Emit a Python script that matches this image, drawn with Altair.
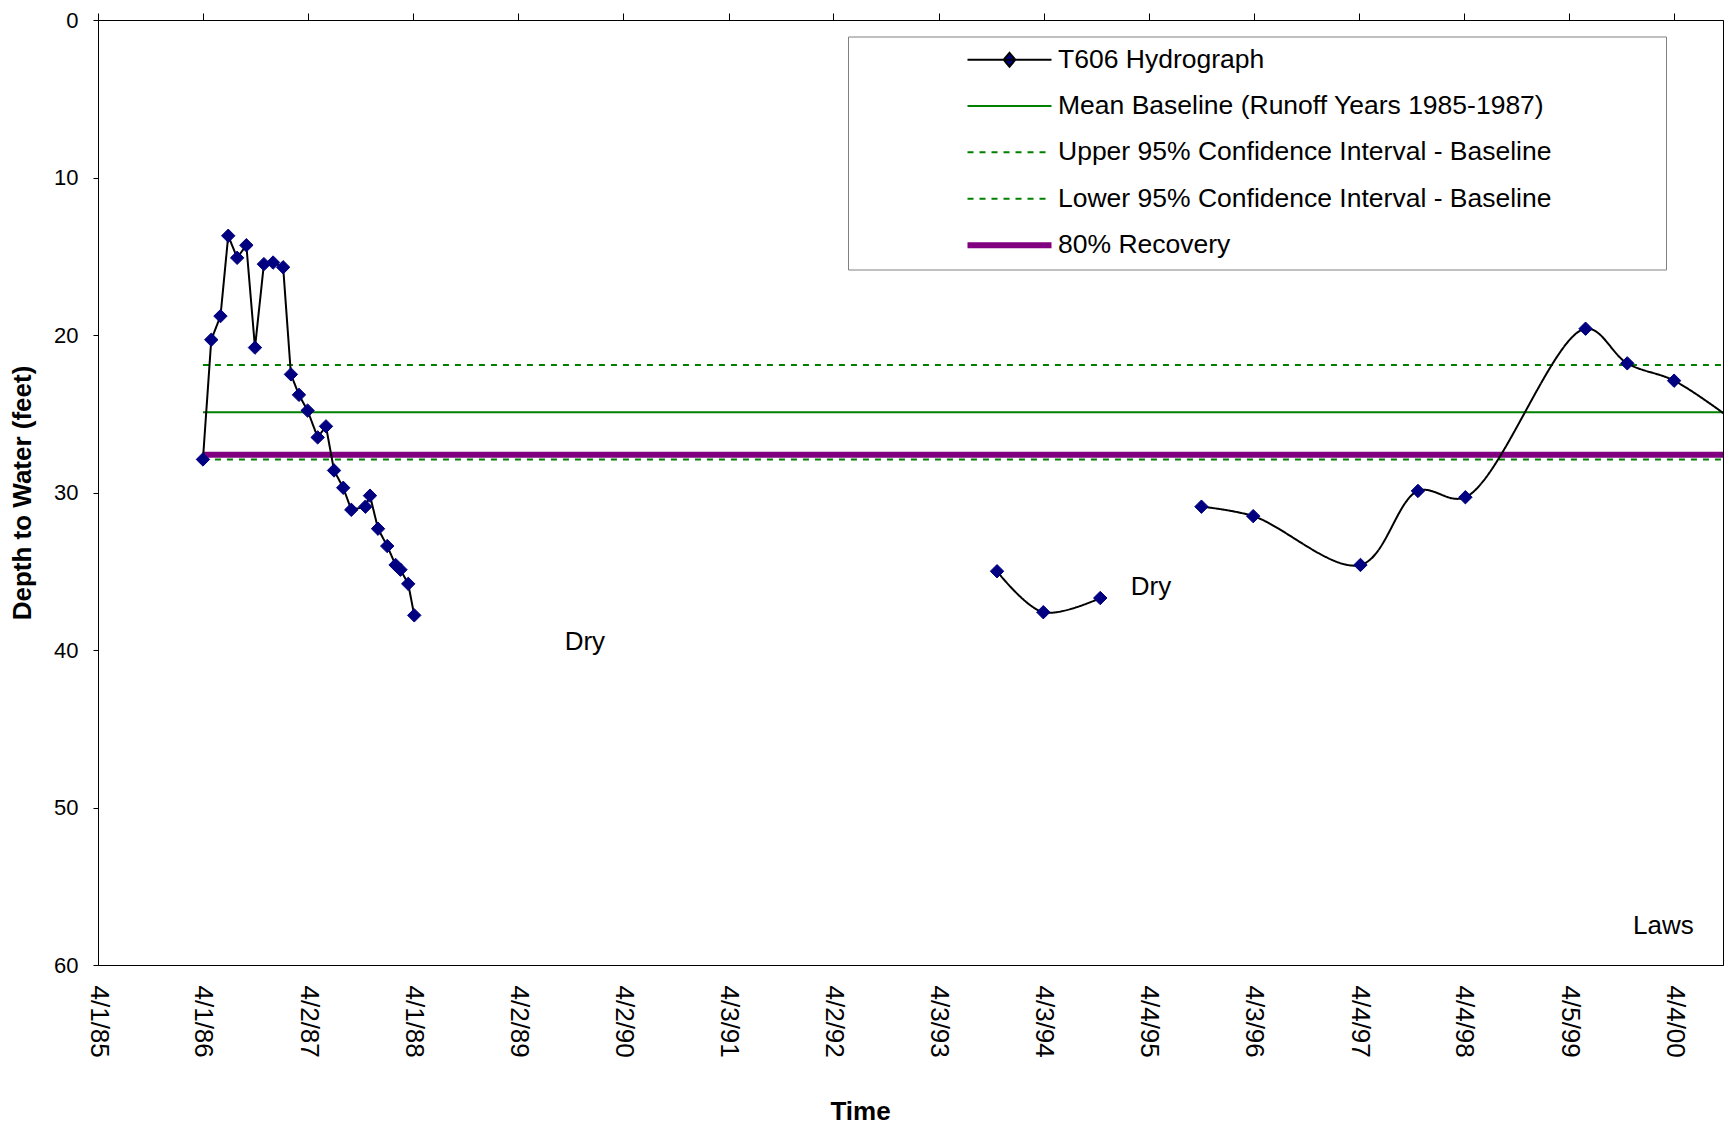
import altair as alt
import pandas as pd

# ---------------- data ----------------
series_names = [
    "T606 Hydrograph",
    "Mean Baseline (Runoff Years 1985-1987)",
    "Upper 95% Confidence Interval - Baseline",
    "Lower 95% Confidence Interval - Baseline",
    "80% Recovery",
]
series_colors = ["#000000", "#008000", "#008000", "#008000", "#800080"]
series_dash = [[1, 0], [1, 0], [6, 6], [6, 6], [1, 0]]
series_widths = [2, 2, 2, 2, 6]
series_fills = ["#000080", "transparent", "transparent", "transparent", "transparent"]

# T606 hydrograph, first run of readings (1986-1988)
seg1_dates = [
    "1986-04-01", "1986-04-30", "1986-06-01", "1986-06-28", "1986-07-29",
    "1986-08-30", "1986-09-29", "1986-10-30", "1986-12-01", "1987-01-05",
    "1987-02-01", "1987-03-01", "1987-03-31", "1987-05-05", "1987-06-03",
    "1987-07-01", "1987-08-02", "1987-08-30", "1987-10-18", "1987-11-03",
    "1987-12-01", "1988-01-02", "1988-01-31", "1988-02-17", "1988-03-15",
    "1988-04-05",
]
seg1_depth = [
    27.9, 20.3, 18.8, 13.7, 15.1,
    14.3, 20.8, 15.5, 15.4, 15.7,
    22.5, 23.8, 24.8, 26.5, 25.8,
    28.6, 29.7, 31.1, 30.9, 30.2,
    32.3, 33.4, 34.6, 34.9, 35.8,
    37.8,
]
# second run (1993-1994)
seg2_dates = ["1993-10-23", "1994-04-02", "1994-10-17"]
seg2_depth = [35.0, 37.6, 36.7]
# third run (1995-2000)
seg3_dates = [
    "1995-10-04", "1996-04-01", "1997-04-09", "1997-10-26", "1998-04-09",
    "1999-06-01", "1999-10-24", "2000-04-04", "2000-10-10",
]
seg3_depth = [30.9, 31.5, 34.6, 29.9, 30.3, 19.6, 21.8, 22.9, 25.2]

# baseline statistics (feet)
baseline_dates = ["1986-04-01", "2000-10-10"]
mean_baseline = 24.9
upper_ci = 21.9
lower_ci = 27.9
recovery_80 = 27.6

# x axis tick dates (year, month, day) and domain
tick_dates = [
    (1985, 4, 1), (1986, 4, 1), (1987, 4, 2), (1988, 4, 1), (1989, 4, 2),
    (1990, 4, 2), (1991, 4, 3), (1992, 4, 2), (1993, 4, 3), (1994, 4, 3),
    (1995, 4, 4), (1996, 4, 3), (1997, 4, 4), (1998, 4, 4), (1999, 4, 5),
    (2000, 4, 4),
]
x_domain_dates = [(1985, 4, 1), (2000, 9, 21)]
y_ticks = [0, 10, 20, 30, 40, 50, 60]

# text annotations
note_text = ["Dry", "Dry", "Laws"]
note_dates = ["1989-09-10", "1995-01-31", "1999-11-13"]
note_depth = [39.5, 36.0, 57.5]

# ---------------- tables ----------------
HYD = series_names[0]

hyd_lin = pd.DataFrame({"date": seg1_dates, "depth": seg1_depth, "series": HYD, "segment": 1})
hyd_smooth = pd.concat([
    pd.DataFrame({"date": seg2_dates, "depth": seg2_depth, "series": HYD, "segment": 2}),
    pd.DataFrame({"date": seg3_dates, "depth": seg3_depth, "series": HYD, "segment": 3}),
], ignore_index=True)
hyd_all = pd.concat([hyd_lin, hyd_smooth], ignore_index=True)
hyd_pts = hyd_all[pd.to_datetime(hyd_all["date"]) <= pd.Timestamp("2000-09-21")]

ref_rows = []
for name, val in [(series_names[1], mean_baseline), (series_names[2], upper_ci),
                  (series_names[3], lower_ci), (series_names[4], recovery_80)]:
    for d in baseline_dates:
        ref_rows.append({"date": d, "depth": val, "series": name})
ref_df = pd.DataFrame(ref_rows)
notes_df = pd.DataFrame({"date": note_dates, "depth": note_depth, "text": note_text})
# legend-only rows (placed before the x domain, so they are clipped away)
legend_df = pd.DataFrame({"date": "1980-01-01", "depth": 30.0, "series": series_names})

# ---------------- scales, axes, legend ----------------
FONT = "Liberation Sans"


def dt(t):
    return alt.DateTime(year=t[0], month=t[1], date=t[2], utc=True)


tick_vals = [dt(t) for t in tick_dates]
x_scale = alt.Scale(type="utc", domain=[dt(t) for t in x_domain_dates], nice=False)
y_scale = alt.Scale(domain=[0, 60], reverse=True, nice=False, zero=False)

x_bottom = alt.Axis(
    orient="bottom", values=tick_vals, format="%-m/%-d/%y", labelAngle=90,
    labelAlign="left", labelBaseline="middle", labelFont=FONT, labelFontSize=26,
    labelColor="black", labelPadding=20, labelFlush=False, labelOverlap=False,
    ticks=False, tickSize=0, domain=True, domainColor="black", grid=False,
    title="Time", titleFont=FONT, titleFontSize=26, titleFontWeight="bold",
    titleColor="black", titleX=762, titleY=154, titleBaseline="alphabetic",
)
x_top = alt.Axis(
    orient="top", values=tick_vals, labels=False, ticks=True, tickSize=7,
    tickColor="black", tickWidth=1, domain=True, domainColor="black",
    grid=False, title=None,
)
y_axis = alt.Axis(
    values=y_ticks, labelFont=FONT, labelFontSize=22, labelColor="black",
    labelPadding=15, tickSize=5, tickColor="black", domainColor="black",
    grid=False, title="Depth to Water (feet)", titleFont=FONT, titleFontSize=26,
    titleFontWeight="bold", titleColor="black", titlePadding=18,
)

LINE_PATH = "M-4,0L4,0M60.4,0"
DIAMOND_PATH = "M-4,0L4,0M0,-0.66L0.56,0L0,0.66L-0.56,0ZM60.4,0"
series_shapes = [DIAMOND_PATH, LINE_PATH, LINE_PATH, LINE_PATH, LINE_PATH]

legend = alt.Legend(
    title=None, orient="none", legendX=750, legendY=16.5, direction="vertical",
    padding=10, fillColor="white", strokeColor="#808080",
    labelFont=FONT, labelFontSize=26.5, labelColor="black", labelLimit=1000,
    symbolSize=441, symbolStrokeWidth=2, symbolOffset=138, labelOffset=35,
    symbolOpacity=1, symbolFillColor="transparent", symbolStrokeColor="black",
    rowPadding=19.3, symbolType=LINE_PATH,
)

color_enc = alt.Color("series:N", scale=alt.Scale(domain=series_names, range=series_colors), legend=legend)
dash_enc = alt.StrokeDash("series:N", scale=alt.Scale(domain=series_names, range=series_dash), legend=legend)
width_enc = alt.StrokeWidth("series:N", scale=alt.Scale(type="ordinal", domain=series_names, range=series_widths), legend=legend)
shape_enc = alt.Shape("series:N", scale=alt.Scale(domain=series_names, range=series_shapes), legend=legend)
fill_enc = alt.Fill("series:N", scale=alt.Scale(domain=series_names, range=series_fills), legend=legend)


def Y():
    return alt.Y("depth:Q", scale=y_scale, axis=y_axis)


# ---------------- layers ----------------
ref_layer = alt.Chart(ref_df).mark_line(clip=True).encode(
    x=alt.X("date:T", scale=x_scale, axis=x_bottom),
    y=Y(), color=color_enc, strokeDash=dash_enc, strokeWidth=width_enc,
)
hyd_lin_layer = alt.Chart(hyd_lin).mark_line(strokeWidth=2, clip=True).encode(
    x=alt.X("date:T", scale=x_scale, axis=x_top),
    y=Y(), color=color_enc, strokeDash=dash_enc, detail="segment:N",
)
hyd_smooth_layer = alt.Chart(hyd_smooth).mark_line(strokeWidth=2, clip=True, interpolate="catmull-rom").encode(
    x=alt.X("date:T", scale=x_scale, axis=None),
    y=Y(), color=color_enc, strokeDash=dash_enc, detail="segment:N",
)
pts_layer = alt.Chart(hyd_pts).mark_point(
    shape="diamond", filled=True, size=180, color="#000080", stroke="#000080",
    strokeWidth=1, opacity=1, clip=True,
).encode(
    x=alt.X("date:T", scale=x_scale, axis=None),
    y=Y(),
)
notes_layer = alt.Chart(notes_df).mark_text(
    align="left", baseline="middle", font=FONT, fontSize=26, color="black"
).encode(
    x=alt.X("date:T", scale=x_scale, axis=None),
    y=Y(), text="text:N",
)
legend_layer = alt.Chart(legend_df).mark_point(filled=False, opacity=1, clip=True).encode(
    x=alt.X("date:T", scale=x_scale, axis=None),
    y=Y(), color=color_enc, strokeDash=dash_enc, strokeWidth=width_enc,
    shape=shape_enc, fill=fill_enc,
)

chart = alt.layer(
    ref_layer, hyd_lin_layer, hyd_smooth_layer, pts_layer, notes_layer, legend_layer
).resolve_axis(x="independent").properties(
    width=1625, height=945,
    padding={"left": 90, "top": 12, "right": 1, "bottom": 161},
    autosize="none",
).configure(font=FONT, background="white").configure_view(stroke="black", strokeWidth=1)

chart.save("out.html", embed_options={"renderer": "svg", "actions": False})
